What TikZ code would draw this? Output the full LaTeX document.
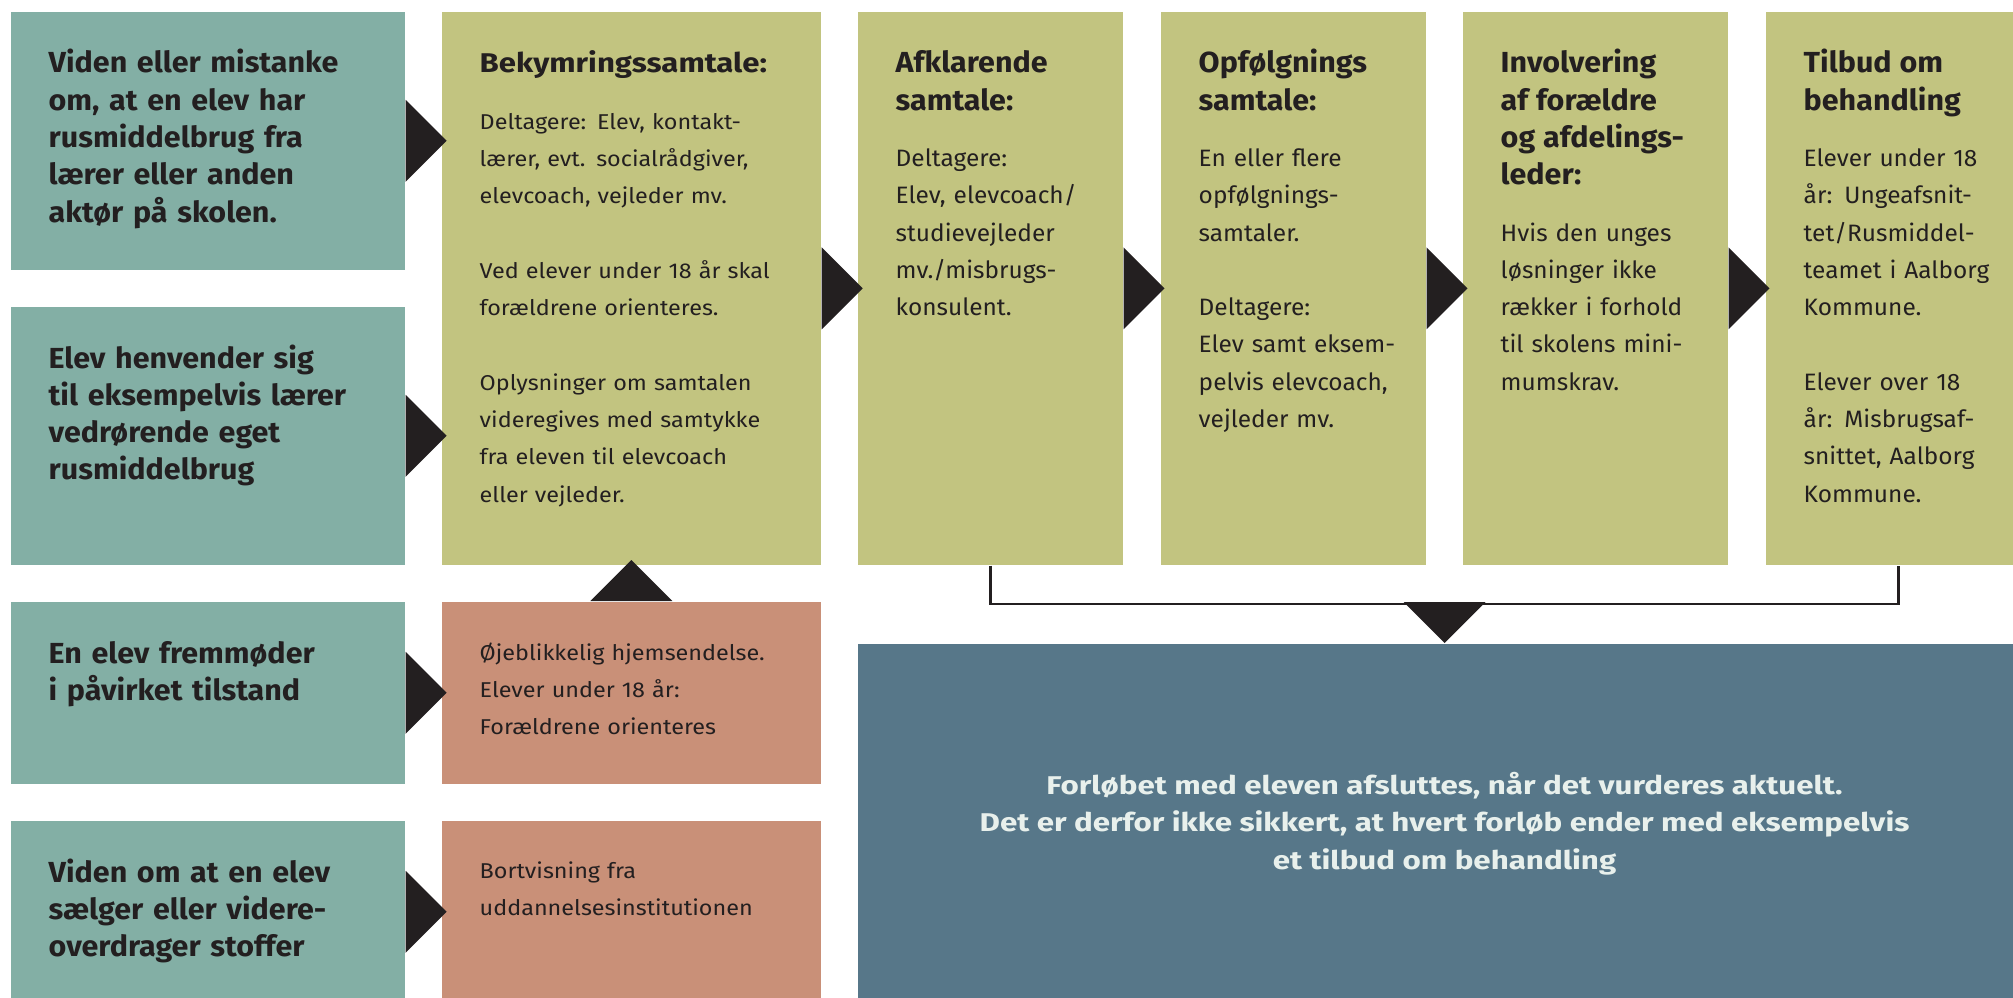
\documentclass[tikz,border=0pt]{standalone}
\usepackage{fontspec}
\setmainfont{Fira Sans}
\newfontfamily\tealfont[FakeStretch=1.05]{Fira Sans}
\newfontfamily\leadfont[FakeStretch=1.15]{Fira Sans}
\newfontfamily\narrowbody[FakeStretch=1.09]{Fira Sans}
\newfontfamily\chainbody[FakeStretch=1.03]{Fira Sans}
\newfontfamily\widefont[FakeStretch=1.22]{Fira Sans}
\usetikzlibrary{calc}

\definecolor{tealbg}{RGB}{131,175,165}
\definecolor{olivebg}{RGB}{194,196,128}
\definecolor{salmonbg}{RGB}{201,144,120}
\definecolor{slatebg}{RGB}{87,119,137}
\definecolor{inkdark}{RGB}{35,31,32}
\definecolor{inklight}{RGB}{232,240,236}

\newcommand{\headfont}{\tealfont\fontsize{8.25}{10.6}\selectfont\bfseries}
\newcommand{\leadhead}{\leadfont\fontsize{7.7}{10.6}\selectfont\bfseries}
\newcommand{\leadbody}{\narrowbody\fontsize{6.1}{10.6}\selectfont}
\newcommand{\bodyfont}{\chainbody\fontsize{6.75}{10.6}\selectfont}
\newcommand{\gap}{\\[10.6pt]}
\newcommand{\aftertitle}{\\[5.4pt]}

\tikzset{
  block/.style={rectangle, inner sep=0pt, anchor=north west},
  tealbox/.style={block, fill=tealbg, minimum width=3.94cm},
  olivebox/.style={block, fill=olivebg, minimum width=2.65cm, minimum height=5.53cm},
  salmonbox/.style={block, fill=salmonbg, minimum width=3.79cm},
  headtxt/.style={anchor=base west, inner sep=0pt, text width=5cm, align=left, text=inkdark, font=\headfont},
  leadtxt/.style={headtxt, font=\leadbody},
  bodytxt/.style={headtxt, font=\bodyfont},
  tip/.style={fill=inkdark},
  bracket/.style={draw=inkdark, line width=0.7pt}
}

\begin{document}
\begin{tikzpicture}[x=0.01cm, y=-0.01cm]
    \useasboundingbox (0,0) rectangle (2013,997);
    \clip (0,0) rectangle (2013,997);

    % left column
    \node[tealbox, minimum height=2.58cm] (t1) at (10,11) {};
    \node[tealbox, minimum height=2.58cm] (t2) at (10,306) {};
    \node[tealbox, minimum height=1.82cm] (t3) at (10,601) {};
    \node[tealbox, minimum height=1.82cm] (t4) at (10,820) {};

    % second column
    \node[olivebox, minimum width=3.79cm] (g1) at (441,11) {};
    \node[salmonbox, minimum height=1.82cm] (s1) at (441,601) {};
    \node[salmonbox, minimum height=1.82cm] (s2) at (441,820) {};

    % the chain
    \node[olivebox] (g2) at (857,11) {};
    \node[olivebox] (g3) at (1160,11) {};
    \node[olivebox] (g4) at (1462,11) {};
    \node[olivebox] (g5) at (1765,11) {};
    \node[block, fill=slatebg, minimum width=11.73cm, minimum height=3.59cm] (close) at (857,643) {};

    % arrows
    \foreach \a in {t1,t2,t3,t4,g1,g2,g3,g4}
        \fill[tip] (\a.east) ++(0,41) -- ++(41,-41) -- ++(-41,-41) -- cycle;
    \fill[tip] (s1.north) ++(-41,0) -- ++(41,-41) -- ++(41,41) -- cycle;
    \draw[bracket] (g2.south) -- ++(0,38) -| (g5.south);
    \fill[tip] (close.north) ++(-41,-41) -- (close.north) -- ++(41,-41) -- cycle;

    % texts
    \node[headtxt] (t1txt) at ($(t1.north west)+(38,62)$) {Viden eller mistanke\\ om, at en elev har\\ rusmiddelbrug fra\\ lærer eller anden\\ aktør på skolen.};
    \node[headtxt] (t2txt) at ($(t2.north west)+(38,62)$) {Elev henvender sig\\ til eksempelvis lærer\\ vedrørende eget\\ rusmiddelbrug};
    \node[headtxt] (t3txt) at ($(t3.north west)+(38,62)$) {En elev fremmøder\\ i påvirket tilstand};
    \node[headtxt] (t4txt) at ($(t4.north west)+(38,62)$) {Viden om at en elev\\ sælger eller videre-\\ overdrager stoffer};

    \node[leadtxt] (g1txt) at ($(g1.north west)+(38,62)$) {{\leadhead Bekymringssamtale:}\aftertitle Deltagere: Elev, kontakt-\\ lærer, evt. socialrådgiver,\\ elevcoach, vejleder mv.\gap Ved elever under 18 år skal\\ forældrene orienteres.\gap Oplysninger om samtalen\\ videregives med samtykke\\ fra eleven til elevcoach\\ eller vejleder.};
    \node[leadtxt] (s1txt) at ($(s1.north west)+(38,59)$) {Øjeblikkelig hjemsendelse.\\ Elever under 18 år:\\ Forældrene orienteres};
    \node[leadtxt] (s2txt) at ($(s2.north west)+(38,58)$) {Bortvisning fra\\ uddannelsesinstitutionen};

    \node[bodytxt] (g2txt) at ($(g2.north west)+(38,62)$) {{\headfont Afklarende\\ samtale:}\aftertitle Deltagere:\\ Elev, elevcoach/\\ studievejleder\\ mv./misbrugs-\\ konsulent.};
    \node[bodytxt] (g3txt) at ($(g3.north west)+(38,62)$) {{\headfont Opfølgnings\\ samtale:}\aftertitle En eller flere\\ opfølgnings-\\ samtaler.\gap Deltagere:\\ Elev samt eksem-\\ pelvis elevcoach,\\ vejleder mv.};
    \node[bodytxt] (g4txt) at ($(g4.north west)+(38,62)$) {{\headfont Involvering\\ af forældre\\ og afdelings-\\ leder:}\aftertitle Hvis den unges\\ løsninger ikke\\ rækker i forhold\\ til skolens mini-\\ mumskrav.};
    \node[bodytxt] (g5txt) at ($(g5.north west)+(38,62)$) {{\headfont Tilbud om\\ behandling}\aftertitle Elever under 18\\ år: Ungeafsnit-\\ tet/Rusmiddel-\\ teamet i Aalborg\\ Kommune.\gap Elever over 18\\ år: Misbrugsaf-\\ snittet, Aalborg\\ Kommune.};

    \node[align=center, text=inklight, font=\widefont\fontsize{7.3}{10.67}\selectfont\bfseries] (closetxt) at (close.center) {Forløbet med eleven afsluttes, når det vurderes aktuelt.\\ Det er derfor ikke sikkert, at hvert forløb ender med eksempelvis\\ et tilbud om behandling};
\end{tikzpicture}
\end{document}
